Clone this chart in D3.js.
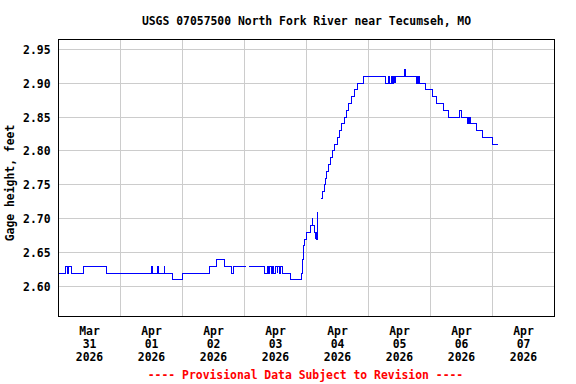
<!DOCTYPE html>
<html>
<head>
<meta charset="utf-8">
<script src="https://cdn.jsdelivr.net/npm/d3@7"></script>
<style>
  html, body { margin: 0; padding: 0; background: #fff; }
  svg { display: block; }
  text { font-family: "DejaVu Sans Mono", monospace; font-weight: bold; font-size: 11.4px; fill: #000; }
</style>
</head>
<body>
<svg width="576" height="384"></svg>
<script>
// Gage height readings, as steps: each level holds until the next time (null = no data)
const stepTimes = [
  "03-31 00:00", "03-31 02:15", "03-31 03:15", "03-31 03:30", "03-31 04:45", "03-31 09:15", "03-31 18:00",
  "04-01 11:45", "04-01 12:00", "04-01 13:45", "04-01 14:30", "04-01 16:30", "04-01 16:45", "04-01 19:45", "04-01 23:45",
  "04-02 10:00", "04-02 12:45", "04-02 15:45", "04-02 18:30", "04-02 19:30",
  "04-03 00:15", "04-03 01:30", "04-03 07:15", "04-03 08:30", "04-03 08:45", "04-03 09:15", "04-03 10:00",
  "04-03 10:30", "04-03 11:00", "04-03 11:30", "04-03 12:15", "04-03 12:30", "04-03 13:00", "04-03 13:30",
  "04-03 14:15", "04-03 17:30", "04-03 21:45", "04-03 22:00", "04-03 22:15", "04-03 22:30", "04-03 22:45", "04-03 23:45",
  "04-04 01:00", "04-04 01:45", "04-04 02:00", "04-04 02:45", "04-04 03:00", "04-04 03:15", "04-04 03:30", "04-04 03:45",
  "04-04 04:00", "04-04 05:15", "04-04 05:45", "04-04 06:30", "04-04 07:00", "04-04 07:30", "04-04 08:15", "04-04 08:45",
  "04-04 09:30", "04-04 10:30", "04-04 11:30", "04-04 12:15", "04-04 13:15", "04-04 14:15", "04-04 15:15", "04-04 16:00",
  "04-04 17:00", "04-04 18:00", "04-04 19:15", "04-04 21:45",
  "04-05 06:00", "04-05 07:30", "04-05 07:45", "04-05 08:30", "04-05 08:45", "04-05 09:15", "04-05 09:30", "04-05 09:45",
  "04-05 10:00", "04-05 10:15", "04-05 13:30", "04-05 13:45", "04-05 18:00", "04-05 18:30", "04-05 18:45", "04-05 19:00",
  "04-05 19:15", "04-05 21:30",
  "04-06 00:30", "04-06 02:00", "04-06 04:45", "04-06 06:45", "04-06 10:45", "04-06 11:30", "04-06 14:00", "04-06 14:15",
  "04-06 14:30", "04-06 14:45", "04-06 15:00", "04-06 17:30", "04-06 19:45", "04-06 23:45",
  "04-07 01:45"
];
const stepLevels = [
  2.62, 2.63, 2.62, 2.63, 2.62, 2.63, 2.62,
  2.63, 2.62, 2.63, 2.62, 2.63, 2.62, 2.61, 2.62,
  2.63, 2.64, 2.63, 2.62, 2.63,
  null, 2.63, 2.62, 2.63, 2.62, 2.63, 2.62,
  2.63, 2.62, 2.63, 2.62, 2.63, 2.62, 2.63,
  2.62, 2.61, 2.62, 2.63, 2.64, 2.66, 2.67, 2.68,
  2.69, 2.70, 2.69, 2.68, 2.67, 2.68, 2.67, 2.71,
  null, 2.73, 2.74, 2.75, 2.76, 2.77, 2.78, 2.79,
  2.80, 2.81, 2.82, 2.83, 2.84, 2.85, 2.86, 2.87,
  2.88, 2.89, 2.90, 2.91,
  2.90, 2.91, 2.90, 2.91, 2.90, 2.91, 2.90, 2.91,
  2.90, 2.91, 2.92, 2.91, 2.90, 2.91, 2.90, 2.91,
  2.90, 2.89,
  2.88, 2.87, 2.86, 2.85, 2.86, 2.85, 2.84, 2.85,
  2.84, 2.85, 2.84, 2.83, 2.82, 2.81,
  null
];

const yTicks = [2.60, 2.65, 2.70, 2.75, 2.80, 2.85, 2.90, 2.95];
const dayLabels = [
  ["Mar", "31", "2026"], ["Apr", "01", "2026"], ["Apr", "02", "2026"], ["Apr", "03", "2026"],
  ["Apr", "04", "2026"], ["Apr", "05", "2026"], ["Apr", "06", "2026"], ["Apr", "07", "2026"]
];
const titleText = "USGS 07057500 North Fork River near Tecumseh, MO";
const yLabelText = "Gage height, feet";
const noteText = "---- Provisional Data Subject to Revision ----";

const parse = d3.timeParse("%Y-%m-%d %H:%M");
const times = stepTimes.map(s => parse("2026-" + s));

const svg = d3.select("svg");
const margin = { top: 39.5, left: 58.5, right: 21.5, bottom: 67.5 };
const width = 576 - margin.left - margin.right;   // 496
const height = 384 - margin.top - margin.bottom;  // 277

const g = svg.append("g")
  .attr("transform", `translate(${margin.left},${margin.top})`);

const x = d3.scaleTime()
  .domain([parse("2026-03-31 00:00"), parse("2026-04-08 00:00")])
  .range([0, width]);

const y = d3.scaleLinear()
  .domain([2.556, 2.9643])
  .range([height, 0]);

// Horizontal gridlines
g.append("g")
  .selectAll("line")
  .data(yTicks)
  .join("line")
  .attr("x1", 0)
  .attr("x2", width)
  .attr("y1", d => Math.round(y(d)))
  .attr("y2", d => Math.round(y(d)))
  .attr("stroke", "#cccccc")
  .attr("shape-rendering", "crispEdges");

// Vertical gridlines at midnight
const midnights = d3.timeDay.range(parse("2026-04-01 00:00"), parse("2026-04-08 00:00"));
g.append("g")
  .selectAll("line")
  .data(midnights)
  .join("line")
  .attr("x1", d => Math.round(x(d)))
  .attr("x2", d => Math.round(x(d)))
  .attr("y1", 0)
  .attr("y2", height)
  .attr("stroke", "#cccccc")
  .attr("shape-rendering", "crispEdges");

// Y tick labels
g.append("g")
  .selectAll("text")
  .data(yTicks)
  .join("text")
  .attr("x", -8)
  .attr("y", d => y(d) + 4.5)
  .attr("text-anchor", "end")
  .text(d3.format(".2f"));

// X labels, centred at noon of each day
const days = d3.timeDay.range(parse("2026-03-31 00:00"), parse("2026-04-08 00:00"));
const xl = g.append("g")
  .selectAll("text")
  .data(days)
  .join("text")
  .attr("text-anchor", "middle")
  .attr("transform", d => `translate(${x(d3.timeHour.offset(d, 12))},0)`);
xl.selectAll("tspan")
  .data((d, i) => dayLabels[i])
  .join("tspan")
  .attr("x", 0)
  .attr("y", (d, i) => 295 + i * 13)
  .text(d => d);

// Build step points from the readings
const points = [];
for (let i = 0; i < stepLevels.length - 1; i++) {
  const v = stepLevels[i];
  if (v == null) { points.push(null); continue; }
  points.push({ date: times[i], value: v });
  points.push({ date: times[i + 1], value: v });
}

const line = d3.line()
  .defined(d => d != null)
  .x(d => Math.round(x(d.date)) + 0.5)
  .y(d => Math.round(y(d.value)) - 0.5);

g.append("path")
  .datum(points)
  .attr("fill", "none")
  .attr("stroke", "#0000ff")
  .attr("stroke-width", 1)
  .attr("shape-rendering", "crispEdges")
  .attr("d", line);

// Frame
g.append("rect")
  .attr("width", width)
  .attr("height", height)
  .attr("fill", "none")
  .attr("stroke", "#000")
  .attr("shape-rendering", "crispEdges");

// Title
svg.append("text")
  .attr("x", margin.left + width / 2)
  .attr("y", 25)
  .attr("text-anchor", "middle")
  .text(titleText);

// Y axis label
svg.append("text")
  .attr("transform", "translate(14,183) rotate(-90)")
  .attr("text-anchor", "middle")
  .text(yLabelText);

// Provisional note
svg.append("text")
  .attr("x", 305.5)
  .attr("y", 379)
  .attr("text-anchor", "middle")
  .style("fill", "#ff0000")
  .text(noteText);
</script>
</body>
</html>
